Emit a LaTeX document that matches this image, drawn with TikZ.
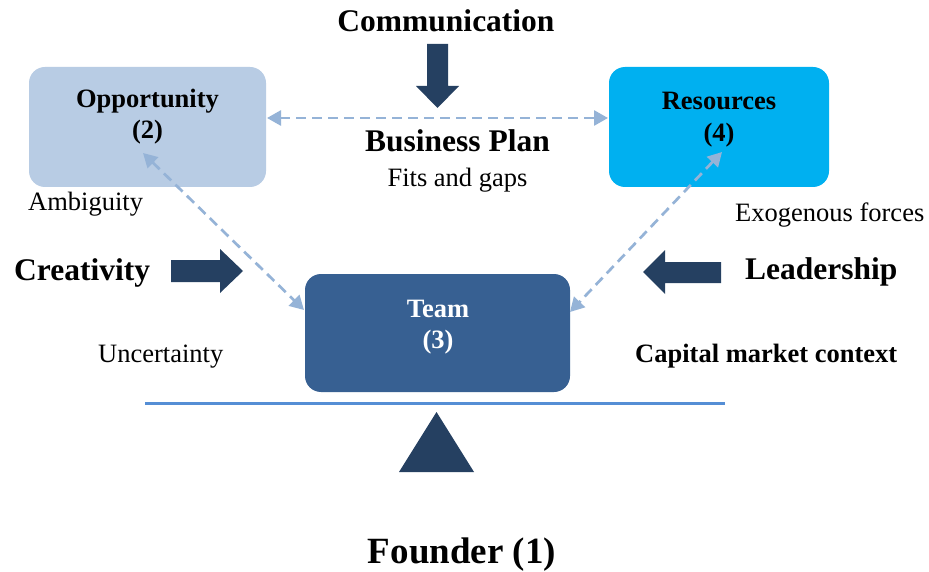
\documentclass[tikz,border=0pt]{standalone}
\usepackage{fontspec}
\setmainfont{Liberation Serif}
\usetikzlibrary{arrows.meta}
\definecolor{oppfill}{HTML}{B8CCE4}
\definecolor{resfill}{HTML}{00B0F0}
\definecolor{teamfill}{HTML}{376092}
\definecolor{darkblue}{HTML}{254061}
\definecolor{dashblue}{HTML}{95B3D7}
\definecolor{beamblue}{HTML}{558ED5}
\tikzset{
  box/.style={rectangle, rounded corners=16pt, draw=none, inner sep=0pt},
  boxtext/.style={anchor=base, inner sep=0pt, font=\fontsize{26.5}{30}\selectfont\bfseries},
  small/.style={anchor=base west, inner sep=0pt, font=\fontsize{26.5}{30}\selectfont},
  smallbold/.style={anchor=base west, inner sep=0pt, font=\fontsize{26.5}{30}\selectfont\bfseries},
  big/.style={inner sep=0pt, font=\fontsize{31.5}{36}\selectfont\bfseries},
  dasharrow/.style={draw=dashblue, line width=2.7pt, dash pattern=on 10pt off 6pt,
    {Triangle[length=14pt,width=15pt]}-{Triangle[length=14pt,width=15pt]}},
  blockarrow/.style={fill=darkblue, draw=none}
}
\begin{document}
\begin{tikzpicture}[x=1pt, y=-1pt]
\useasboundingbox[fill=white] (0,0) rectangle (929,572);

% boxes
\node[box, fill=oppfill, minimum width=237pt, minimum height=120pt] (opp) at (147.5,127) {};
\node[box, fill=resfill, minimum width=220pt, minimum height=120pt] (res) at (719,127) {};
\node[box, fill=teamfill, minimum width=265pt, minimum height=118pt] (team) at (437.5,333) {};

% box texts
\node[boxtext] (oppt1) at (147.5,108) {Opportunity};
\node[boxtext] (oppt2) at (147.5,139) {(2)};
\node[boxtext] (rest1) at (719,110) {Resources};
\node[boxtext] (rest2) at (719,142) {(4)};
\node[boxtext, text=white] (teamt1) at (438,317) {Team};
\node[boxtext, text=white] (teamt2) at (438,348) {(3)};

% connector end points
\coordinate (oppR) at (267,118);
\coordinate (resL) at (608,118);
\coordinate (oppIn) at (143,153);
\coordinate (resIn) at (722,152);
\coordinate (teamL) at (304,310);
\coordinate (teamR) at (570,312);

% dashed connectors
\draw[dasharrow] (oppR) -- (resL);
\draw[dasharrow] (oppIn) -- (teamL);
\draw[dasharrow] (resIn) -- (teamR);

% block arrows
\fill[blockarrow] (427,44) -- (448,44) -- (448,86) -- (459,86) -- (437.5,108) -- (416,86) -- (427,86) -- cycle;
\fill[blockarrow] (171,260) -- (220,260) -- (220,249) -- (243,271) -- (220,293) -- (220,282) -- (171,282) -- cycle;
\fill[blockarrow] (721,262) -- (665,262) -- (665,250) -- (643,272) -- (665,294) -- (665,283) -- (721,283) -- cycle;

% beam and fulcrum
\draw[beamblue, line width=3pt] (145,403) -- (725,403);
\fill[darkblue] (436.5,412) -- (474,472) -- (399,472) -- cycle;

% labels
\node[big, anchor=base] (comm) at (446,32) {Communication};
\node[big, anchor=base] (bp) at (457.5,152) {Business Plan};
\node[small, anchor=base] (fits) at (457.5,187) {Fits and gaps};
\node[small] (amb) at (28,211) {Ambiguity};
\node[big, anchor=base west] (crea) at (14,280) {Creativity};
\node[small] (unc) at (98,362) {Uncertainty};
\node[small] (exo) at (735,222) {Exogenous forces};
\node[big, anchor=base west] (lead) at (745,279) {Leadership};
\node[smallbold] (cap) at (635,362) {Capital market context};
\node[inner sep=0pt, anchor=base, font=\fontsize{37}{42}\selectfont\bfseries] (found) at (462,563) {Founder (1)};
\end{tikzpicture}
\end{document}
